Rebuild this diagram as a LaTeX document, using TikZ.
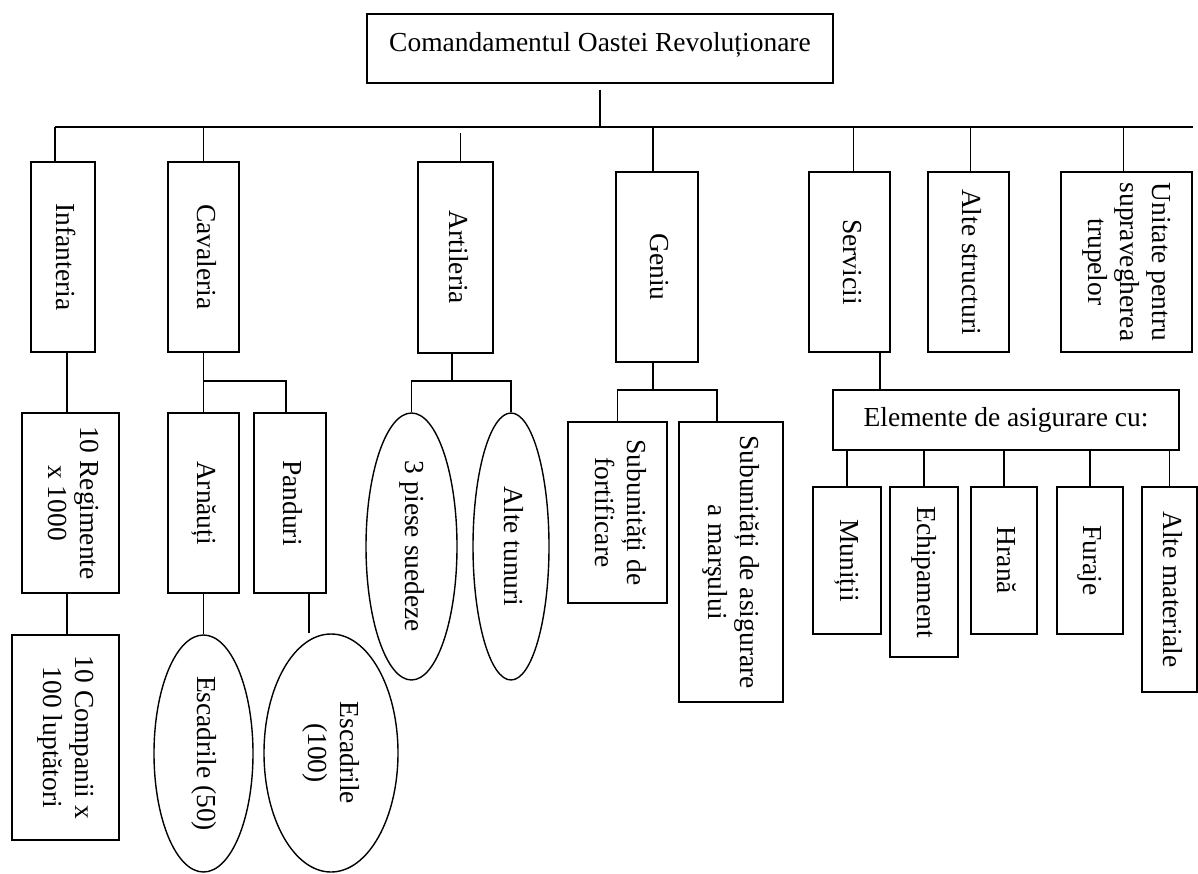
\documentclass[tikz,border=0pt]{standalone}
\usepackage{fontspec}
\setmainfont{Liberation Serif}
\usepackage{graphicx}
\usetikzlibrary{shapes.geometric,calc}

\newcommand{\vtext}[1]{\rotatebox{-90}{\begin{tabular}{@{}c@{}}#1\end{tabular}}}

\begin{document}
\begin{tikzpicture}[x=1pt,y=-1pt,line width=1.4pt,
  every node/.style={font=\fontsize{27.5}{32}\selectfont},
  box/.style={draw,rectangle,inner sep=0pt},
  oval/.style={draw,ellipse,inner sep=0pt}]
  \useasboundingbox (0,0) rectangle (1198,874);

  \node[box,minimum width=466,minimum height=69] (cmd) at (600,48.5) {\raisebox{13pt}{Comandamentul Oastei Revoluționare}};
  \coordinate (busL) at (55,127);
  \coordinate (busR) at (1193,127);

  \node[box,minimum width=64,minimum height=190]  (inf)  at (63,257)     {\vtext{Infanteria}};
  \node[box,minimum width=71,minimum height=190]  (cav)  at (203.5,257)  {\vtext{Cavaleria}};
  \node[box,minimum width=75,minimum height=191]  (art)  at (455.5,257.5){\vtext{Artileria}};
  \node[box,minimum width=82,minimum height=190]  (gen)  at (657,267)    {\vtext{Geniu}};
  \node[box,minimum width=81,minimum height=180]  (serv) at (849.5,262)  {\vtext{Servicii}};
  \node[box,minimum width=81,minimum height=180]  (alte) at (968.5,262)  {\vtext{Alte structuri}};
  \node[box,minimum width=131,minimum height=180] (unit) at (1126.5,262) {\vtext{Unitate pentru\\supravegherea\\trupelor}};

  \node[box,minimum width=97,minimum height=180]  (reg)  at (70.5,503)   {\vtext{10 Regimente\\x 1000}};
  \node[box,minimum width=107,minimum height=205] (comp) at (65.5,737.5) {\vtext{10 Companii x\\100 luptători}};
  \node[box,minimum width=71,minimum height=180]  (arn)  at (203.5,503)  {\vtext{Arnăuți}};
  \node[box,minimum width=72,minimum height=180]  (pan)  at (290,503)    {\vtext{Panduri}};
  \node[oval,minimum width=99,minimum height=237]  (esc1) at (203.5,753.5) {\vtext{Escadrile (50)}};
  \node[oval,minimum width=134,minimum height=238] (esc2) at (331,753)     {\vtext{Escadrile\\(100)}};
  \node[oval,minimum width=91,minimum height=267]  (pie)  at (411.5,546.5) {\vtext{3 piese suedeze}};
  \node[oval,minimum width=76,minimum height=267]  (tun)  at (511,546.5)   {\vtext{Alte tunuri}};
  \node[box,minimum width=99,minimum height=181]  (fort) at (617.5,512.5) {\vtext{Subunități de\\fortificare}};
  \node[box,minimum width=104,minimum height=280] (mars) at (731,562)    {\vtext{Subunități de asigurare\\a marşului}};

  \node[box,minimum width=346,minimum height=60]  (elem) at (1006,420)   {Elemente de asigurare cu:};
  \node[box,minimum width=68,minimum height=147]  (mun)  at (847,560.5)  {\vtext{Muniții}};
  \node[box,minimum width=68,minimum height=170]  (ech)  at (924,572)    {\vtext{Echipament}};
  \node[box,minimum width=66,minimum height=147]  (hra)  at (1004,560.5) {\vtext{Hrană}};
  \node[box,minimum width=66,minimum height=147]  (fur)  at (1090,560.5) {\vtext{Furaje}};
  \node[box,minimum width=55,minimum height=205]  (mat)  at (1169.5,589.5) {\vtext{Alte materiale}};

  \draw ([yshift=-6pt]cmd.south) -- (cmd.south |- busL);
  \draw (busL) -- (busR);
  \foreach \n/\dx/\g in {inf/-8/0,cav/0/0,art/5/6,gen/-4/0,serv/4/0,alte/2/0,unit/-3/0}
    \draw ($(\n.north)+(\dx,0)$) -- ($(\n.north |- busL)+(\dx,\g)$);

  \draw ($(inf.south)+(4,0)$) -- ($(reg.north)+(-3.5,0)$);
  \draw ($(reg.south)+(-3.5,0)$) -- ($(comp.north)+(1.5,0)$);

  \coordinate (cavj) at (203,381);
  \draw (cav.south) -- (arn.north);
  \draw (cavj) -| ($(pan.north)+(-4,0)$);
  \draw (arn.south) -- (esc1.north);
  \coordinate (panx) at ($(pan.south)+(19,0)$);
  \draw (panx) -- (panx |- esc2.north);

  \coordinate (artj) at (452,381);
  \draw (artj) -- (artj |- art.south);
  \draw (pie.north) |- (artj) -| (tun.north);

  \coordinate (genj) at (653,390);
  \draw (genj) -- (genj |- gen.south);
  \draw (fort.north) |- (genj) -| ($(mars.north)+(-14,0)$);

  \coordinate (servx) at ($(serv.south)+(30.5,0)$);
  \draw (servx) -- (servx |- elem.north);
  \foreach \n in {mun,ech,hra,fur,mat}
    \draw (\n.north) -- (\n.north |- elem.south);
\end{tikzpicture}
\end{document}
